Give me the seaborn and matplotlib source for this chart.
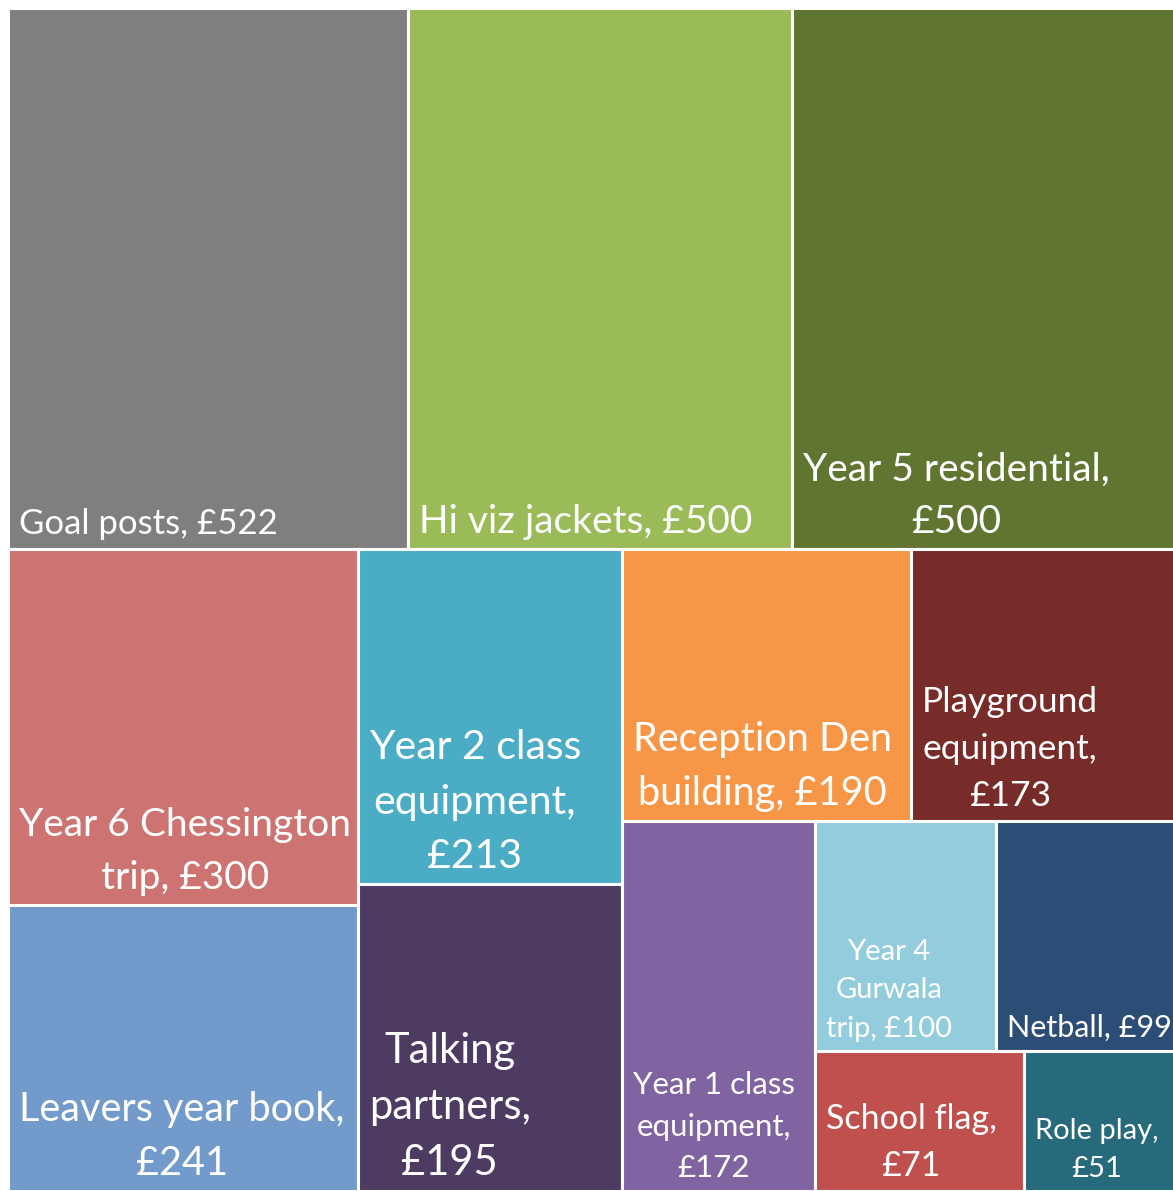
import textwrap

import matplotlib.pyplot as plt
import seaborn as sns

# spend per item (GBP), in the order the treemap lays them out
items = ['Goal posts', 'Hi viz jackets', 'Year 5 residential', 'Year 6 Chessington trip',
         'Leavers year book', 'Year 2 class equipment', 'Talking partners',
         'Reception Den building', 'Playground equipment', 'Year 1 class equipment',
         'Year 4 Gurwala trip', 'Netball', 'School flag', 'Role play']
amounts = [522, 500, 500, 300, 241, 213, 195, 190, 173, 172, 100, 99, 71, 51]

colors = ['#7f7f7f', '#9bbb59', '#607530', '#cd7371', '#729aca', '#4bacc6', '#4d3b62',
          '#f79646', '#772c2a', '#8064a2', '#93cddd', '#2c4d75', '#c0504d', '#276a7c']
# label styling: wrap width (chars) and font size (pt)
wrap_width = [30, 30, 19, 18, 18, 12, 9, 14, 10, 12, 10, 20, 12, 10]
font_size = [25, 28, 28, 28, 28.5, 29.5, 30, 28.5, 25.5, 22.5, 21, 22, 24.5, 21]

W, H = 1167, 1183   # canvas of the treemap, in pixels


def worst(row, side):
    s = sum(row)
    return max(max(side * side * r / (s * s), s * s / (side * side * r)) for r in row)


def squarify(areas, x, y, w, h):
    rects = []
    areas = list(areas)
    while areas:
        side = min(w, h)
        row = [areas.pop(0)]
        while areas and worst(row + [areas[0]], side) <= worst(row, side):
            row.append(areas.pop(0))
        s = sum(row)
        if w >= h:
            cw = s / h
            yy = y
            for a in row:
                rects.append((x, yy, cw, a / cw))
                yy += a / cw
            x += cw
            w -= cw
        else:
            rh = s / w
            xx = x
            for a in row:
                rects.append((xx, y, a / rh, rh))
                xx += a / rh
            y += rh
            h -= rh
    return rects


sns.set_theme(style='white')
plt.rcParams['font.family'] = ['Lato', 'DejaVu Sans']

scale = W * H / sum(amounts)
rects = squarify([a * scale for a in amounts], 0, 0, W, H)

fig = plt.figure(figsize=(11.73, 11.91), dpi=100)
ax = fig.add_axes([8 / 1173, 0, W / 1173, H / 1191])

xs = [r[0] for r in rects]
ys = [r[1] for r in rects]
ws = [r[2] for r in rects]
hs = [r[3] for r in rects]
ax.bar(xs, hs, width=ws, bottom=ys, align='edge', color=colors,
       edgecolor='white', linewidth=2.2)

for (x, y, w, h), name, amt, ww, fs in zip(rects, items, amounts, wrap_width, font_size):
    label = textwrap.fill(f'{name}, £{amt}', ww)
    ax.text(x + 11, y + h - 9, label, ha='left', va='bottom', multialignment='center',
            color='white', fontsize=fs, linespacing=1.58)

ax.set_xlim(0, W)
ax.set_ylim(H, 0)
ax.axis('off')

plt.savefig('out.png', dpi=100)
